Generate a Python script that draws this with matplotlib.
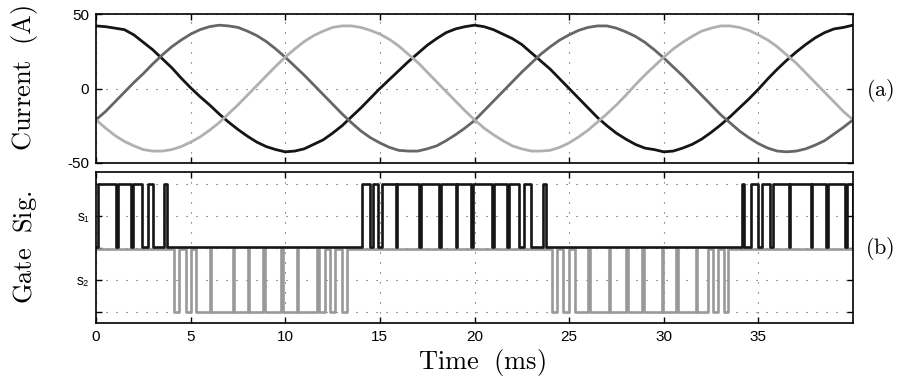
# three-phase currents (a) and gate signals (b) for one switching leg

import numpy as np
import matplotlib
matplotlib.use("Agg")
import matplotlib.pyplot as plt

time_ms = np.arange(0, 40.5, 0.5)

i_black = [42, 41.5, 40.5, 39.5, 36, 31, 26, 20, 14, 7,
           0.5, -5.5, -11, -17, -22.5, -27.5, -32, -36, -39, -41,
           -42.5, -42, -40.5, -37.5, -34.5, -30, -25, -19, -13, -6.5,
           0, 6, 12, 18, 23.5, 29, 33.5, 37.5, 40, 41.5,
           42.5, 41.5, 39.5, 36.5, 33.5, 29.5, 24, 18.5, 13, 6.5,
           0, -6.5, -13, -19.5, -25, -30, -34, -37.5, -40, -41,
           -42.5, -42, -40, -37.5, -34, -29.5, -24.5, -19, -13, -7,
           -0.5, 6.5, 13, 19, 24.5, 29.5, 34, 37.5, 40, 41,
           42.5]
i_dark = [-21, -15.5, -9, -2.5, 4, 10, 16.5, 22.5, 28, 32.5,
          36.5, 39.5, 41.5, 42.5, 42, 41, 38.5, 35.5, 31.5, 26.5,
          21, 15, 9, 2.5, -4, -10.5, -17, -23, -28.5, -33,
          -36.5, -39.5, -41.5, -42, -42, -40.5, -38.5, -35, -31, -26.5,
          -21.5, -15, -8.5, -2, 4.5, 11, 17, 23, 28, 32.5,
          36, 39, 41, 42, 42, 40.5, 38, 35, 31, 26,
          20.5, 14.5, 8.5, 2, -4.5, -11, -17.5, -23, -28.5, -33,
          -37, -40, -42, -42.5, -42, -40.5, -38, -35, -30.5, -26,
          -21]
i_light = [-21, -26.5, -31.5, -35.5, -38.5, -41, -42, -42, -41, -39,
           -36, -32.5, -28, -23, -17, -11, -4.5, 2, 8.5, 15,
           21, 26.5, 31.5, 35.5, 38.5, 41, 42, 42, 41, 39,
           36.5, 33, 28.5, 23, 17.5, 11, 4.5, -2, -8.5, -15,
           -21, -26.5, -31, -35, -38.5, -40.5, -42, -42, -41.5, -39.5,
           -36.5, -32.5, -28, -22.5, -17, -11, -4.5, 2.5, 9, 15,
           21, 26.5, 31, 35, 38.5, 40.5, 42, 42, 41, 39,
           36, 32.5, 28, 22.5, 17, 10.5, 4, -2.5, -9, -15.5,
           -21]

# s1 "on" intervals (ms) and s2 "on" intervals (ms)
s1_on = [(0.10, 1.06), (1.18, 1.83), (1.97, 2.41), (2.76, 3.00), (3.59, 3.77),
         (14.07, 14.47), (14.65, 14.88), (15.09, 15.84), (15.92, 17.08),
         (17.16, 18.13), (18.21, 19.01), (19.09, 19.82), (19.94, 20.95),
         (21.03, 21.72), (21.80, 22.35), (22.62, 22.96), (23.62, 23.76),
         (34.11, 34.25), (34.60, 35.00), (35.18, 35.60), (35.78, 36.60),
         (36.68, 37.76), (37.84, 38.56), (38.66, 39.58), (39.66, 40.0)]
s2_on = [(4.12, 4.38), (4.74, 5.00), (5.30, 6.02), (6.10, 7.22), (7.30, 8.02),
         (8.10, 8.85), (8.93, 9.78), (9.86, 10.62), (10.70, 11.70),
         (11.78, 12.10), (12.36, 12.63), (12.98, 13.28),
         (24.12, 24.38), (24.70, 25.00), (25.30, 26.02), (26.10, 27.10),
         (27.18, 28.03), (28.11, 28.85), (28.93, 29.90), (29.98, 30.66),
         (30.74, 31.70), (31.78, 32.33), (32.58, 32.87), (33.20, 33.40)]

x_ticks = [0, 5, 10, 15, 20, 25, 30, 35]
gate_ticks = [0, 0.5, 1, 1.5, 2]
gate_labels = ["", "s\u2082", "", "s\u2081", ""]


def pulse_train(intervals, rest, active, t_end=40):
    xs, ys = [0], [rest]
    for a, b in intervals:
        xs += [a, a, b, b]
        ys += [rest, active, active, rest]
    xs.append(t_end)
    ys.append(ys[-1])
    return xs, ys


plt.rcParams["font.family"] = ["Liberation Sans", "DejaVu Sans"]
plt.rcParams["mathtext.fontset"] = "cm"
plt.rcParams["axes.unicode_minus"] = False

W, H = 899, 383
my_dpi = 100
fig = plt.figure(figsize=(W / my_dpi, H / my_dpi), dpi=my_dpi)

left = 96 / W
width = 757 / W
ax1 = fig.add_axes([left, 1 - 163 / H, width, 149 / H])
ax2 = fig.add_axes([left, 1 - 323 / H, width, 151 / H])

grid_kw = dict(color="#555555", linestyle=(0, (1, 8)), linewidth=0.8)

for ax in (ax1, ax2):
    ax.set_xlim(0, 40)
    ax.set_xticks(x_ticks)
    ax.tick_params(direction="in", top=True, right=True, length=4,
                   width=1.0, labelsize=11, pad=5)
    ax.grid(True, **grid_kw)
    for sp in ax.spines.values():
        sp.set_linewidth(1.2)

# (a) currents
ax1.plot(time_ms, i_black, color="#151515", lw=2.0)
ax1.plot(time_ms, i_dark, color="#666666", lw=2.0)
ax1.plot(time_ms, i_light, color="#b0b0b0", lw=2.0)
ax1.set_ylim(-50, 50)
ax1.set_yticks([-50, 0, 50])
ax1.set_xticklabels([])

# (b) gate signals
gx, gy = pulse_train(s2_on, 0.98, 0.0)
ax2.plot(gx, gy, color="#999999", lw=1.9)
bx, by = pulse_train(s1_on, 1.02, 2.0)
ax2.plot(bx, by, color="#151515", lw=1.9)
ax2.set_ylim(-0.17, 2.18)
ax2.set_yticks(gate_ticks)
ax2.set_yticklabels(gate_labels)
ax2.tick_params(axis="y", labelsize=10)

# labels
fig.text(25 / W, 1 - 78 / H, r"$\mathrm{Current\ \ (A)}$", rotation=90,
         ha="center", va="center", fontsize=19)
fig.text(25 / W, 1 - 247 / H, r"$\mathrm{Gate\ \ Sig.}$", rotation=90,
         ha="center", va="center", fontsize=19)
fig.text(482 / W, 1 - 362 / H, r"$\mathrm{Time\ \ (ms)}$",
         ha="center", va="center", fontsize=19)
fig.text(880 / W, 1 - 90 / H, r"$\mathrm{(a)}$", ha="center", va="center",
         fontsize=16)
fig.text(880 / W, 1 - 248 / H, r"$\mathrm{(b)}$", ha="center", va="center",
         fontsize=16)

fig.savefig("out.png", dpi=my_dpi)
